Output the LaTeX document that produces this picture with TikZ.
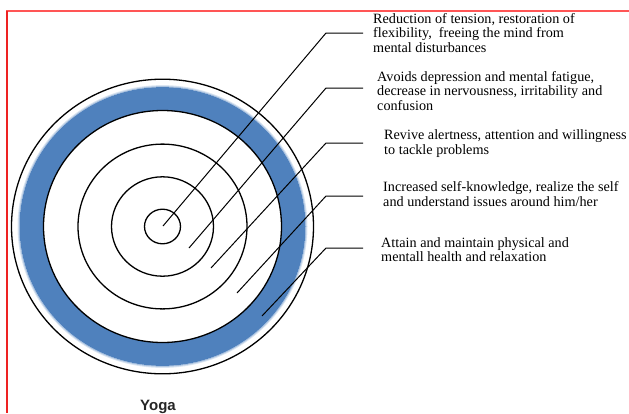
\documentclass[tikz,border=0pt]{standalone}
\usepackage{fontspec}
\setmainfont{Liberation Serif}
\newfontfamily\yogafont{Liberation Sans}
\definecolor{ringblue}{HTML}{4F81BD}
\definecolor{frametop}{HTML}{FF5555}
\definecolor{frameleft}{HTML}{EE2222}
\definecolor{yogagray}{HTML}{262626}
\begin{document}
\begin{tikzpicture}[x=1pt,y=-1pt,
  ring/.style={draw=black, line width=1.3pt},
  leader/.style={draw=black, line width=1pt, line join=miter},
  label/.style={anchor=base west, inner sep=0pt, align=left,
    font=\fontsize{14.2}{14.5}\selectfont, text=black}]
\useasboundingbox (0,0) rectangle (629,413);
% frame
\draw[frametop, line width=2pt] (6,11) -- (629,11);
\draw[frameleft, line width=1.5pt] (7,11) -- (7,413);
\coordinate (c) at (162.5,226.5);
% blue ring with soft edge
\fill[ringblue, even odd rule] (c) ellipse [x radius=143pt, y radius=139.4pt]
  (c) ellipse [x radius=119pt, y radius=116pt];
\draw[ringblue, opacity=0.45, line width=1pt] (c) ellipse [x radius=143.5pt, y radius=139.9pt];
\draw[ringblue, opacity=0.2, line width=1pt] (c) ellipse [x radius=144.5pt, y radius=140.9pt];
% circles
\draw[ring] (c) ellipse [x radius=151pt, y radius=147.3pt];
\draw[ring] (c) ellipse [x radius=119pt, y radius=116pt];
\draw[ring] (c) ellipse [x radius=84.5pt, y radius=82.4pt];
\draw[ring] (c) ellipse [x radius=51pt, y radius=49.7pt];
\draw[ring] (c) ellipse [x radius=18pt, y radius=17.3pt];
% labels (anchor = baseline of last line)
\node[label] (t1) at (373,52) {Reduction of tension, restoration of\\flexibility,\ \ freeing the mind from\\mental disturbances};
\node[label] (t2) at (377,110) {Avoids depression and mental fatigue,\\decrease in nervousness, irritability and\\confusion};
\node[label] (t3) at (384,154) {Revive alertness, attention and willingness\\to tackle problems};
\node[label] (t4) at (383,206) {Increased self-knowledge, realize the self\\and understand issues around him/her};
\node[label] (t5) at (381,261.5) {Attain and maintain physical and\\mentall health and relaxation};
% leader coordinates
\coordinate (a1) at (163,226);   \coordinate (b1) at (326,33);  \coordinate (e1) at (363,33);
\coordinate (a2) at (189,248);   \coordinate (b2) at (326,88);  \coordinate (e2) at (363,88);
\coordinate (a3) at (211,268);   \coordinate (b3) at (326,143); \coordinate (e3) at (363,143);
\coordinate (a4) at (237,293);   \coordinate (b4) at (326,196); \coordinate (e4) at (363,196);
\coordinate (a5) at (262,316);   \coordinate (b5) at (326,248); \coordinate (e5) at (363,248);
\foreach \i in {1,...,5}{\draw[leader] (a\i) -- (b\i) -- (e\i);}
% title
\node[anchor=base, inner sep=0pt, font=\yogafont\bfseries\fontsize{15}{17}\selectfont, text=yogagray] (yoga) at (158,410) {Yoga};
\end{tikzpicture}
\end{document}
